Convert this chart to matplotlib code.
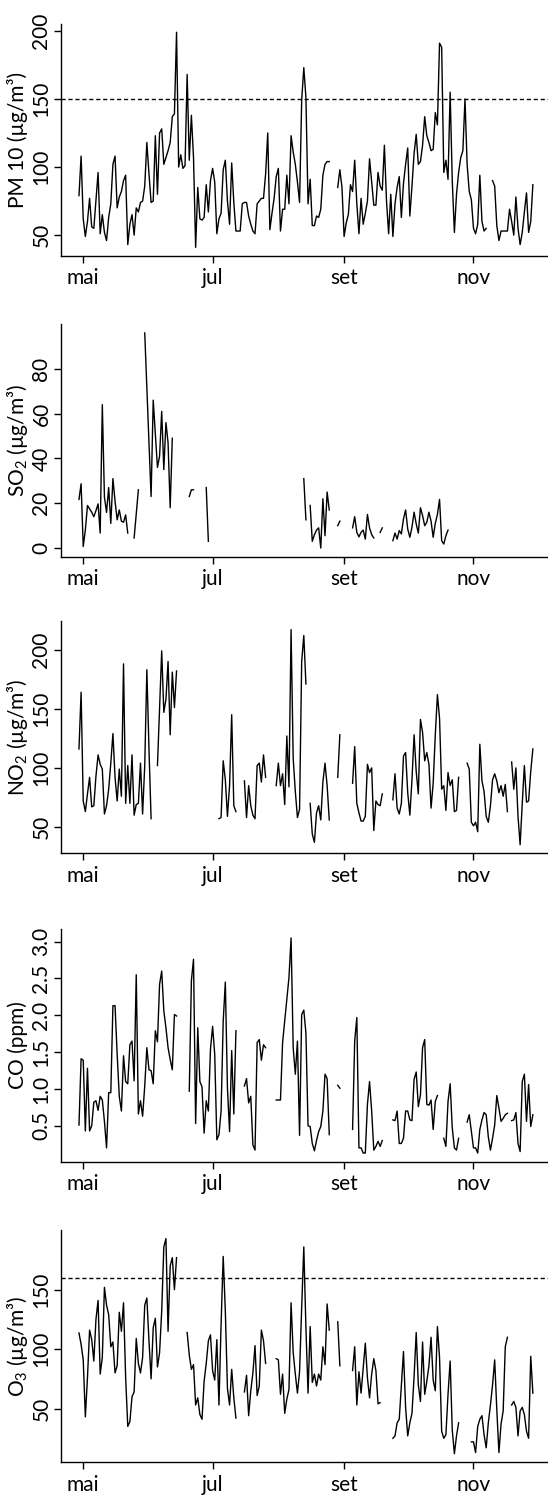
import numpy as np
import pandas as pd
import matplotlib
matplotlib.use('Agg')
import matplotlib.pyplot as plt
from matplotlib.ticker import FormatStrFormatter

plt.rcParams['font.family'] = ['Lato', 'DejaVu Sans']

NA = np.nan

# dias de medição (29 abr a 29 nov)
inicio = '2009-04-29'
n_dias = 215

meses = ['2009-05-01', '2009-07-01', '2009-09-01', '2009-11-01']
meses_lab = ['mai', 'jul', 'set', 'nov']

pm10 = ([79, 108, 62, 49, 60, 77, 56, 55, 75, 96,
         51, 65, 52, 46, 63, 73, 102, 108, 70, 78,
         82, 90, 94, 43, 58, 65, 50, 70, 67, 74,
         75, 86, 118, 95, 74, 75, 123, 80, 125, 128,
         102, 107, 112, 118, 137, 139, 199, 100, 109, 99,
         101, 168, 105, 138, 107, 41, 85, 62, 61, 63,
         87, 67, 90, 99, 89, 51, 62, 66, 98, 105,
         75, 58, 103, 74, 53, 53, 53, 73, 74, 74,
         64, 58, 53, 51, 73, 75, 77, 77, 95, 125,
         54, 66, 77, 93, 99, 53, 69, 69, 94, 73,
         123, 111, 102, 89, 74, 149, 173, 151, 73, 91,
         57, 57, 64, 63, 69, 94, 102, 104, 104]
        + [NA] * 3 +
        [85, 98, 85, 49, 59, 65, 87, 82, 105, 73,
         51, 77, 58, 66, 75, 106, 89, 72, 72, 96,
         86, 83, 116, 75, 51, 80, 49, 73, 85, 93,
         63, 88, 102, 114, 64, 86, 110, 124, 102, 104,
         116, 137, 123, 118, 112, 113, 140, 131, 191,
         188, 96, 105, 91, 155, 90, 52, 80, 96, 107,
         112, 150, 102, 82, 76, 55, 51, 58, 94, 60,
         53, 55]
        + [NA] * 2 +
        [90, 86, 57, 46, 53, 53, 53, 53, 69, 60,
         50, 78, 55, 43, 52, 67, 81, 52, 60, 87])

so2 = ([21.7, 28.7, 0.7, 8, 19, 17.5, 16, 14, 16.7, 19.7, 6.7, 64,
        22.7, 15.9, 27, 11, 31, 21, 12.6, 17, 12, 11.5, 14.8, 6.7]
       + [NA] * 2 + [4.5, 15, 26] + [NA] * 2
       + [96, 71, 47, 23, 66, 51, 36, 41, 61, 35, 56, 47, 18, 49]
       + [NA] * 7 + [23, 26, 26] + [NA] * 5 + [27, 3] + [NA] * 44
       + [31, 12.6] + [NA] + [19, 3, 6, 8, 9, 0, 22, 5.5, 25, 17]
       + [NA] * 3 + [10, 12] + [NA] * 5
       + [9, 14, 7, 5, 7, 8, 4, 15, 9, 6, 4.5] + [NA] * 2 + [7, 9] + [NA] * 4
       + [3.3, 6.7, 4, 7.8, 6.3, 13, 17, 8.5, 4.8, 9.3, 16, 10.8, 6.7, 18,
          14.5, 10, 11.5, 16, 12, 4.8, 11, 15, 21.7, 3.3, 1.8, 5.5, 8]
       + [NA] * 40)

no2 = ([116, 164, 72, 63, 78, 92, 67, 68, 93, 111, 103, 99, 61, 68, 82, 104,
        129, 92, 72, 99, 76, 188, 70, 102, 70, 111, 60, 69, 70, 104, 61, 102,
        183, 116, 57]
       + [NA] * 2 + [102, 150, 199, 147, 158, 190, 128, 181, 151, 182]
       + [NA] * 19 + [57, 58, 106, 90, 59, 85, 145, 68, 63]
       + [NA] * 3 + [89, 58, 85, 68, 60, 57, 102, 104, 88, 111, 92]
       + [NA] * 4 + [85, 104, 85, 95, 69, 127, 84, 217, 108, 80, 58, 65, 190, 212, 171]
       + [NA] + [70, 44, 37, 62, 68, 56, 88, 104, 85, 56]
       + [NA] * 3 + [92, 128] + [NA] * 5
       + [87, 118, 70, 62, 55, 55, 59, 103, 96, 100, 47, 72, 69, 68, 78]
       + [NA] * 4
       + [73, 95, 66, 61, 70, 110, 113, 79, 60, 90, 128, 97, 78, 141, 130, 106,
          113, 103, 66, 87, 128, 162, 142, 82, 85, 64, 96, 85, 90, 63, 64, 92]
       + [NA] * 3
       + [104, 99, 54, 51, 54, 46, 120, 89, 80, 59, 54, 68, 90, 95, 89, 79, 85, 76, 86, 63]
       + [NA] + [105, 82, 100, 59, 35, 70, 102, 71, 72, 97, 116])

co = ([0.51, 1.41, 1.39, 0.43, 1.28, 0.43, 0.5, 0.82, 0.84, 0.71,
       0.9, 0.85, 0.56, 0.2, 0.95, 0.95, 2.13, 2.13, 1.47, 0.9,
       0.7, 1.45, 1.1, 1.07, 1.6, 1.65, 1.11, 2.55, 0.66, 0.84,
       0.63, 1.04, 1.56, 1.26, 1.25, 1.07, 1.79, 1.64, 2.42, 2.6,
       2.06, 1.83, 1.56, 1.4, 1.26, 2.01, 1.99]
      + [NA] * 5
      + [0.97, 2.47, 2.76, 0.53, 1.83, 1.1, 1.03, 0.4, 0.84, 0.7, 1.54, 1.85,
         1.47, 0.31, 0.38, 0.7, 1.92, 2.45, 1.01, 0.42, 1.52, 0.66, 1.79]
      + [NA] * 3 + [1.04, 1.14, 0.81, 0.9, 0.24, 0.17, 1.63, 1.67, 1.39, 1.6, 1.56]
      + [NA] * 4
      + [0.85, 0.85, 0.85, 1.63, 1.92, 2.22, 2.51, 3.05, 1.56, 1.2, 1.65, 0.37, 2.01,
         2.07, 1.76, 0.5, 0.49, 0.26, 0.16, 0.3, 0.42, 0.49, 0.7, 1.2, 1.14, 0.38]
      + [NA] * 3 + [1.05, 1.01] + [NA] * 5
      + [0.45, 1.65, 1.97, 0.2, 0.2, 0.13, 0.13, 0.79, 1.1, 0.7, 0.17, 0.22, 0.29, 0.22, 0.3]
      + [NA] * 4
      + [0.58, 0.57, 0.7, 0.26, 0.26, 0.33, 0.7, 0.7, 0.58, 0.57, 1.13, 1.23, 0.76,
         0.92, 1.56, 1.67, 0.79, 0.78, 0.85, 0.45, 0.83, 0.91]
      + [NA] * 2 + [0.33, 0.22, 0.83, 1.07, 0.47, 0.2, 0.17, 0.33]
      + [NA] * 3
      + [0.55, 0.65, 0.42, 0.2, 0.2, 0.13, 0.45, 0.58, 0.68, 0.65, 0.35, 0.17, 0.33,
         0.51, 0.91, 0.74, 0.56, 0.6, 0.65, 0.67]
      + [NA] + [0.57, 0.58, 0.68, 0.26, 0.15, 1.1, 1.2, 0.56, 1.06, 0.49, 0.65])

o3 = ([113.6, 104, 91, 43, 76, 116, 108, 90, 125, 141,
       79, 93, 152, 137, 129, 102, 106, 80, 86, 131,
       115, 139, 76, 35, 39, 60, 64, 109, 88, 80,
       93, 137, 143, 107, 75, 118, 126, 85, 97, 132,
       186, 193, 115, 170, 177, 150, 177]
      + [NA] * 4
      + [114, 95, 83, 87, 53, 59, 45, 41, 73, 88, 107, 112, 82, 74, 108, 53,
         121, 178, 132, 67, 53, 83, 59, 42]
      + [NA] * 3 + [64, 78, 44, 65, 80, 103, 61, 69, 116, 107, 88]
      + [NA] * 4
      + [92, 91, 62, 79, 46, 58, 66, 139, 97, 79, 63, 81, 135, 186, 118, 63,
         119, 72, 79, 69, 79, 74, 102, 87, 138, 116]
      + [NA] * 3 + [123, 86] + [NA] * 5
      + [82, 102, 53, 81, 63, 84, 105, 76, 59, 79, 92, 82, 54, 55]
      + [NA] * 5
      + [25, 27, 38, 41, 70, 98, 51, 27, 38, 46, 77, 114, 70, 56, 106, 62,
         73, 86, 110, 74, 65, 119, 93, 31, 25, 28, 62, 90, 32, 12, 27, 38]
      + [NA] * 5
      + [22, 22, 13, 35, 41, 44, 28, 17, 38, 53, 70, 91, 49, 13, 37, 48, 102, 110]
      + [NA] + [53, 56, 51, 27, 48, 51, 45, 31, 25, 94, 63])

series = [pm10, so2, no2, co, o3]
rotulos = ['PM 10 (µg/m³)', r'SO$\mathregular{_2}$ (µg/m³)',
           r'NO$\mathregular{_2}$ (µg/m³)', 'CO (ppm)', r'O$\mathregular{_3}$ (µg/m³)']
yticks = [[50, 100, 150, 200], [0, 20, 40, 60, 80], [50, 100, 150, 200],
          [0.5, 1.0, 1.5, 2.0, 2.5, 3.0], [50, 100, 150]]
limites = [150, None, None, None, 160]

dias = pd.date_range(inicio, periods=n_dias, freq='D')
# mesma escala x para todos (4% de folga, como no R)
folga = (dias[-1] - dias[0]) * 0.04
xlim = (dias[0] - folga, dias[-1] + folga)

fig = plt.figure(figsize=(5.48, 14.96), dpi=100)
# posições dos painéis (base, altura) em fração da figura
bases = [0.8289, 0.6279, 0.4296, 0.2235, 0.0225]
altura = 0.1553

for i, serie in enumerate(series):
    ax = fig.add_axes([0.111, bases[i], 0.8945, altura])
    ax.plot(dias, serie, color='black', lw=1)
    if limites[i] is not None:
        ax.axhline(limites[i], color='black', lw=1, ls=(0, (3, 2)))
    ax.margins(y=0.04)
    ax.set_xlim(xlim)
    for s in ['top', 'right']:
        ax.spines[s].set_visible(False)
    for s in ['left', 'bottom']:
        ax.spines[s].set_linewidth(1)
    ax.set_xticks(pd.to_datetime(meses))
    ax.set_xticklabels(meses_lab)
    ax.set_yticks(yticks[i])
    if i == 3:
        ax.yaxis.set_major_formatter(FormatStrFormatter('%.1f'))
    else:
        ax.yaxis.set_major_formatter(FormatStrFormatter('%d'))
    ax.tick_params(axis='both', direction='out', length=4.75, width=1,
                   labelsize=15, color='black')
    ax.tick_params(axis='x', pad=4, length=5)
    ax.tick_params(axis='y', pad=2, labelrotation=90)
    for lab in ax.get_yticklabels():
        lab.set_va('center')
    ax.set_ylabel(rotulos[i], fontsize=15)
    ax.yaxis.set_label_coords(-0.0883, 0.5)
    ax.yaxis.label.set_va('center')

fig.savefig('out.png', dpi=100)
